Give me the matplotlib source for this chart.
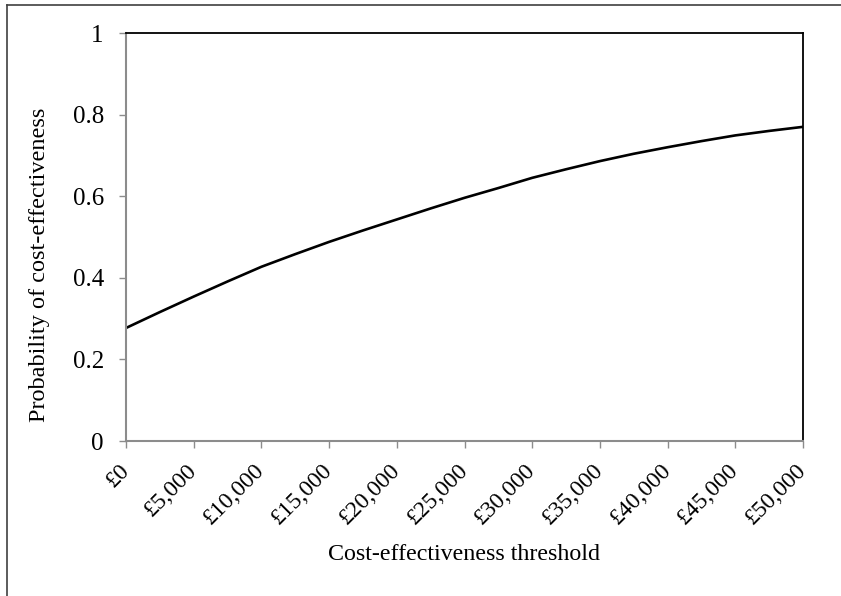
import matplotlib
matplotlib.use("Agg")
import matplotlib.pyplot as plt
from matplotlib.lines import Line2D

thresholds = [0, 2500, 5000, 7500, 10000, 12500, 15000, 17500, 20000, 22500, 25000,
              27500, 30000, 32500, 35000, 37500, 40000, 42500, 45000, 47500, 50000]
probability = [0.277, 0.316, 0.354, 0.391, 0.427, 0.458, 0.488, 0.516, 0.543, 0.570, 0.596,
               0.620, 0.645, 0.666, 0.686, 0.704, 0.720, 0.735, 0.749, 0.760, 0.770]
x_ticks = [0, 5000, 10000, 15000, 20000, 25000, 30000, 35000, 40000, 45000, 50000]
x_tick_labels = ["£0", "£5,000", "£10,000", "£15,000", "£20,000", "£25,000",
                 "£30,000", "£35,000", "£40,000", "£45,000", "£50,000"]
y_ticks = [0, 0.2, 0.4, 0.6, 0.8, 1]
y_tick_labels = ["0", "0.2", "0.4", "0.6", "0.8", "1"]

plt.rcParams['font.family'] = ['Liberation Serif', 'DejaVu Serif']

W, H = 841, 596
fig = plt.figure(figsize=(W / 100, H / 100), dpi=100)
ax = fig.add_axes([126 / W, 1 - 441 / H, (803 - 126) / W, (441 - 33) / H])

ax.plot(thresholds, probability, color='black', linewidth=1.9, solid_capstyle='butt')
ax.set_xlim(0, 50000)
ax.set_ylim(0, 1)

ax.set_xticks(x_ticks)
ax.set_xticklabels(x_tick_labels, rotation=45, ha='right', va='center',
                   rotation_mode='anchor', fontsize=17)
ax.set_yticks(y_ticks)
ax.set_yticklabels(y_tick_labels, fontsize=18)

gray = '#8c8c8c'
for s in ['left', 'bottom']:
    ax.spines[s].set_color(gray)
    ax.spines[s].set_linewidth(1.5)
for s in ['top', 'right']:
    ax.spines[s].set_color('black')
    ax.spines[s].set_linewidth(1.3)
ax.tick_params(axis='both', direction='out', length=5, width=1, color=gray)
ax.tick_params(axis='y', pad=11)
ax.tick_params(axis='x', pad=14)

ax.set_ylabel("Probability of cost-effectiveness", fontsize=17.5, va='center')
ax.yaxis.set_label_coords((40 - 126) / 677, (441 - 265) / 408)
ax.set_xlabel("Cost-effectiveness threshold", fontsize=17.3, va='center')
ax.xaxis.set_label_coords((464 - 126) / 677, (441 - 554) / 408)

# outer border (left and top visible)
fig.add_artist(Line2D([6.5 / W, 6.5 / W], [0, 1 - 4.5 / H], transform=fig.transFigure,
                      color='#404040', linewidth=1.2))
fig.add_artist(Line2D([6.5 / W, 1], [1 - 4.5 / H, 1 - 4.5 / H], transform=fig.transFigure,
                      color='#404040', linewidth=1.2))

fig.savefig("out.png", dpi=100)
